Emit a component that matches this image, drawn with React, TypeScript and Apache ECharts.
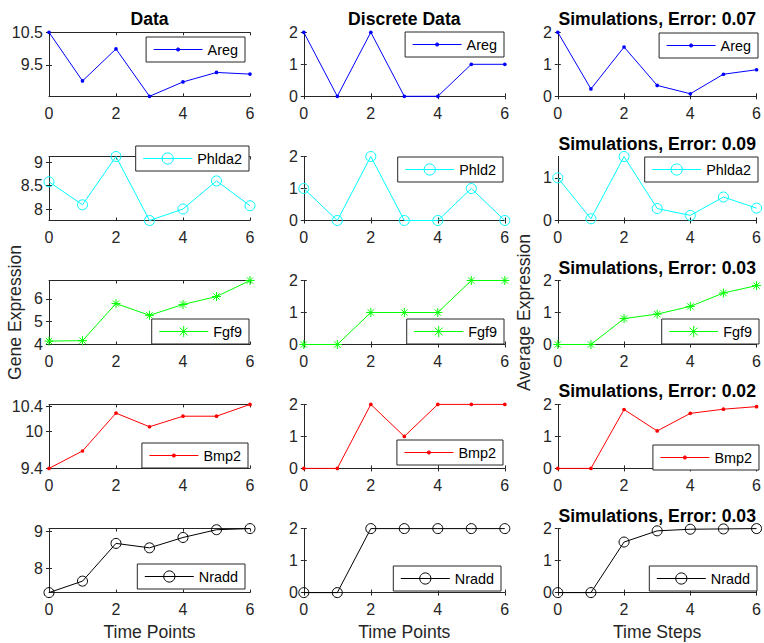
import React, { useEffect, useRef } from "react";
import * as echarts from "echarts";

// ---------- data ----------
const timePoints = [0, 1, 2, 3, 4, 5, 6];

const dataAreg = [10.5, 9.01, 9.99, 8.54, 8.98, 9.27, 9.22];
const dataPhlda2 = [8.58, 8.09, 9.12, 7.755, 8.0, 8.6, 8.07];
const dataFgf9 = [4.13, 4.15, 5.79, 5.27, 5.75, 6.1, 6.81];
const dataBmp2 = [9.4, 9.68, 10.29, 10.07, 10.24, 10.24, 10.43];
const dataNradd = [7.34, 7.65, 8.67, 8.55, 8.83, 9.04, 9.07];

const discAreg = [2, 0, 2, 0, 0, 1, 1];
const discPhld2 = [1, 0, 2, 0, 0, 1, 0];
const discFgf9 = [0, 0, 1, 1, 1, 2, 2];
const discBmp2 = [0, 0, 2, 1, 2, 2, 2];
const discNradd = [0, 0, 2, 2, 2, 2, 2];

const simAreg = [2.0, 0.23, 1.54, 0.34, 0.08, 0.69, 0.83];
const simPhlda2 = [1.0, 0.04, 1.5, 0.28, 0.12, 0.55, 0.29];
const simFgf9 = [0, 0, 0.81, 0.95, 1.19, 1.61, 1.84];
const simBmp2 = [0, 0, 1.84, 1.17, 1.72, 1.85, 1.93];
const simNradd = [0, 0, 1.58, 1.93, 1.98, 1.99, 2.0];

const dataNames = ["Areg", "Phlda2", "Fgf9", "Bmp2", "Nradd"];
const discNames = ["Areg", "Phld2", "Fgf9", "Bmp2", "Nradd"];
const simNames = ["Areg", "Phlda2", "Fgf9", "Bmp2", "Nradd"];
const simErrors = ["0.07", "0.09", "0.03", "0.02", "0.03"];
const columnTitles = ["Data", "Discrete Data"];

// y-axis limits and tick values per panel
const dataYMin = [8.54, 7.755, 3.98, 9.4, 7.34];
const dataYMax = [10.5, 9.12, 6.81, 10.43, 9.07];
const dataYTicks = [[9.5, 10.5], [8, 8.5, 9], [4, 5, 6], [9.4, 10, 10.4], [8, 9]];
const discYMin = [0, 0, 0, 0, 0];
const discYMax = [2, 2, 2, 2, 2];
const discYTicks = [[0, 1, 2], [0, 1, 2], [0, 1, 2], [0, 1, 2], [0, 1, 2]];
const simYMin = [0, 0, 0, 0, 0];
const simYMax = [2, 1.5, 2, 2, 2];
const simYTicks = [[0, 1, 2], [0, 1], [0, 1, 2], [0, 1, 2], [0, 1, 2]];
const xTicks = [0, 2, 4, 6];

// ---------- styling / layout ----------
const FONT = "'Liberation Sans', Arial, Helvetica, sans-serif";
const AX = "#262626";
const geneColors = ["#0000ff", "#00ffff", "#00ff00", "#ff0000", "#000000"];
const geneMarkers = ["dot", "circle", "star", "dot", "circle"];

const gridLeft = [49, 303.8, 557.8];
const gridWidth = 201;
const gridTop = [32.3, 156.5, 280.5, 404.4, 528.6];
const gridHeight = 64;

const legendRight = [
  [519, 515, 515, 516, 519],
  [260, 261, 260, 261, 263],
  [6, 6, 5, 5, 7],
];
const legendTop = [
  [37, 146, 319, 443, 564],
  [32, 157, 319, 440, 566],
  [33, 157, 319, 445, 566],
];

const DOT = "path://M0,0M12,12M4.3,6A1.7,1.7,0,1,0,7.7,6A1.7,1.7,0,1,0,4.3,6Z";
const STAR = "path://M5,0L5,10M0,5L10,5M1.5,1.5L8.5,8.5M1.5,8.5L8.5,1.5";

function markerProps(kind: string, color: string) {
  if (kind === "dot") {
    return { symbol: DOT, symbolSize: 13, itemStyle: { color, borderColor: color, borderWidth: 0 } };
  }
  if (kind === "star") {
    return { symbol: STAR, symbolSize: 9, itemStyle: { color, borderColor: color, borderWidth: 1 } };
  }
  return { symbol: "circle", symbolSize: 10, itemStyle: { color: "transparent", borderColor: color, borderWidth: 1 } };
}

function buildOption() {
  const columns = [
    { values: [dataAreg, dataPhlda2, dataFgf9, dataBmp2, dataNradd], names: dataNames, ymin: dataYMin, ymax: dataYMax, yticks: dataYTicks, xname: "Time Points", yname: "Gene Expression" },
    { values: [discAreg, discPhld2, discFgf9, discBmp2, discNradd], names: discNames, ymin: discYMin, ymax: discYMax, yticks: discYTicks, xname: "Time Points", yname: "" },
    { values: [simAreg, simPhlda2, simFgf9, simBmp2, simNradd], names: simNames, ymin: simYMin, ymax: simYMax, yticks: simYTicks, xname: "Time Steps", yname: "Average Expression" },
  ];

  const grid: any[] = [];
  const xAxis: any[] = [];
  const yAxis: any[] = [];
  const series: any[] = [];
  const legend: any[] = [];

  const tickStyle = { show: true, inside: true, length: 3, lineStyle: { color: AX, width: 1 } };
  const lineStyle = { show: true, lineStyle: { color: AX, width: 1 } };

  columns.forEach((col, c) => {
    col.values.forEach((vals, r) => {
      const g = grid.length;
      grid.push({ left: gridLeft[c], top: gridTop[r], width: gridWidth, height: gridHeight, show: false });

      let title = "";
      if (c < 2 && r === 0) title = columnTitles[c];
      if (c === 2) title = "Simulations, Error: " + simErrors[r];

      xAxis.push({
        type: "value", gridIndex: g, position: "bottom", min: 0, max: 6, interval: 2,
        axisLine: lineStyle, axisTick: { ...tickStyle, customValues: xTicks }, splitLine: { show: false },
        axisLabel: { customValues: xTicks, fontSize: 16, color: AX, fontFamily: FONT, margin: 9 },
        name: r === 4 ? col.xname : "", nameLocation: "middle", nameGap: 30,
        nameTextStyle: { fontSize: 17.6, color: AX, fontFamily: FONT },
      });
      xAxis.push({
        type: "value", gridIndex: g, position: "top", min: 0, max: 6, interval: 2,
        axisLine: lineStyle, axisTick: { ...tickStyle, customValues: xTicks }, splitLine: { show: false },
        axisLabel: { show: false },
        name: title, nameLocation: "middle", nameGap: 4,
        nameTextStyle: { fontSize: 17.6, fontWeight: "bold", color: "#000", fontFamily: FONT },
      });
      const yt = col.yticks[r];
      yAxis.push({
        type: "value", gridIndex: g, position: "left", min: col.ymin[r], max: col.ymax[r],
        axisLine: lineStyle, axisTick: { ...tickStyle, customValues: yt }, splitLine: { show: false },
        axisLabel: { customValues: yt, fontSize: 16, color: AX, fontFamily: FONT, margin: 6 },
        name: r === 2 ? col.yname : "", nameLocation: "middle", nameGap: 25,
        nameTextStyle: { fontSize: 17.6, color: AX, fontFamily: FONT },
      });
      yAxis.push({
        type: "value", gridIndex: g, position: "right", min: col.ymin[r], max: col.ymax[r],
        axisLine: lineStyle, axisTick: { ...tickStyle, customValues: yt }, splitLine: { show: false },
        axisLabel: { show: false },
      });

      const color = geneColors[r];
      series.push({
        type: "line",
        name: col.names[r],
        xAxisIndex: 2 * g,
        yAxisIndex: 2 * g,
        data: timePoints.map((t, i) => [t, vals[i]]),
        lineStyle: { color, width: 1 },
        clip: false,
        silent: true,
        ...markerProps(geneMarkers[r], color),
      });

      legend.push({
        data: [col.names[r]],
        right: legendRight[c][r],
        top: legendTop[c][r],
        orient: "horizontal",
        selectedMode: false,
        backgroundColor: "#ffffff",
        borderColor: AX,
        borderWidth: 1,
        borderRadius: 0,
        padding: [5, 7, 5, 7],
        itemWidth: 49,
        itemHeight: 14,
        itemStyle: { borderWidth: 1 },
        lineStyle: { width: 1 },
        textStyle: { fontSize: 14.4, color: "#000", fontFamily: FONT, lineHeight: 15 },
      });
    });
  });

  return {
    animation: false,
    backgroundColor: "#ffffff",
    textStyle: { fontFamily: FONT },
    grid,
    xAxis,
    yAxis,
    series,
    legend,
  };
}

export default function App() {
  const ref = useRef<HTMLDivElement>(null);
  useEffect(() => {
    if (!ref.current) return;
    const chart = echarts.init(ref.current, undefined, { renderer: "svg" });
    chart.setOption(buildOption() as any);
    return () => chart.dispose();
  }, []);
  return (
    <div
      ref={ref}
      style={{ position: "absolute", left: 0, top: 0, width: 764, height: 643, background: "#fff" }}
    />
  );
}
